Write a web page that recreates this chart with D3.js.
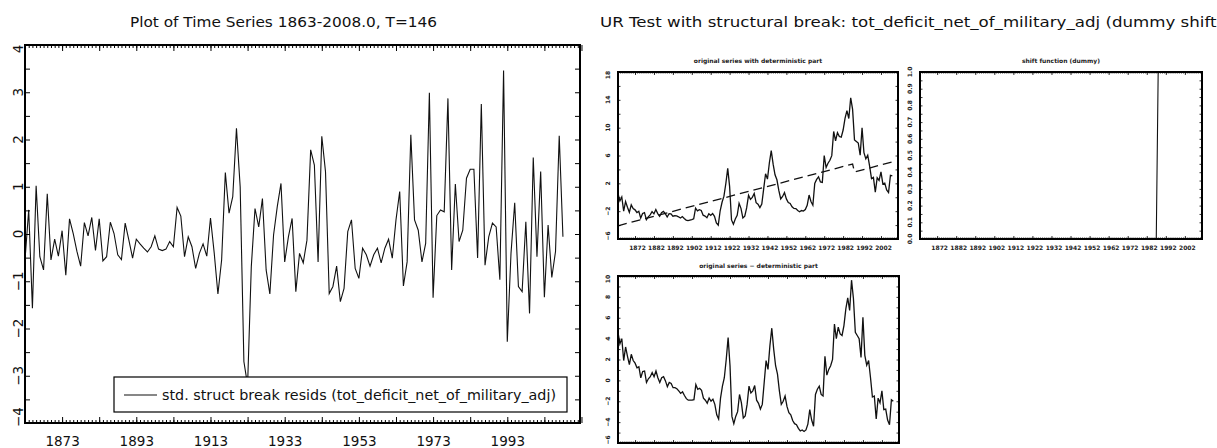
<!DOCTYPE html>
<html>
<head>
<meta charset="utf-8">
<script src="https://cdn.jsdelivr.net/npm/d3@7"></script>
<style>
  body { margin: 0; background: #fff; }
  svg { display: block; }
</style>
</head>
<body>
<svg id="chart" width="1217" height="448"></svg>
<script>
// ---- data -------------------------------------------------------------
const startYear = 1863;

// standardized structural-break residuals, 1863-2008
const residuals = [
  -0.55, 0.51, -1.57, 1.02, -0.48, -0.76, 0.85, -0.55, -0.11, -0.47,
   0.07, -0.87, 0.32, 0.01, -0.37, -0.68, 0.24, -0.04, 0.35, -0.35,
   0.32, -0.57, -0.48, 0.25, 0.01, -0.44, -0.54, 0.23, -0.13, -0.51,
  -0.11, -0.21, -0.30, -0.38, -0.27, -0.04, -0.32, -0.35, -0.32, -0.16,
  -0.27, 0.56, 0.38, -0.48, -0.06, -0.27, -0.73, -0.41, -0.21, -0.47,
   0.34, -0.40, -1.27, -0.55, 1.30, 0.44, 0.79, 2.24, 1.00, -2.70,
  -3.20, -0.69, 0.54, 0.15, 0.75, -0.76, -1.27, -0.02, 0.58, 1.07,
  -0.59, -0.06, 0.33, -1.22, -0.41, -0.61, -0.13, 1.78, 1.46, -0.59,
   2.07, 1.32, -1.26, -1.11, -0.68, -1.43, -1.15, 0.05, 0.30, -0.73,
  -0.94, -0.30, -0.44, -0.68, -0.44, -0.30, -0.61, -0.30, -0.11, -0.51,
   0.30, 0.90, -1.10, -0.59, 2.10, 0.30, 0.08, -0.59, -0.20, 2.99,
  -1.35, 0.39, 0.51, 0.47, 2.87, -0.76, 1.06, -0.16, 0.08, 1.18,
   1.37, 1.37, -0.51, 2.75, -0.66, -0.06, 0.23, 0.15, -0.97, 3.46,
  -2.28, -0.41, 0.66, -1.11, -1.22, 0.26, -1.68, 1.62, -0.48, 1.32,
  -1.34, 0.19, -0.92, -0.37, 2.08, -0.06
];

// original series (tot_deficit_net_of_military_adj), 1863-2008
const original = [
   0.50, -0.53, 0.04, -1.99, -0.61, -1.44, -2.17, -1.10, -1.63, -1.81,
  -2.19, -2.01, -2.99, -2.32, -2.20, -3.23, -2.81, -2.53, -2.06, -2.39,
  -1.77, -2.35, -2.73, -2.21, -2.03, -2.36, -2.84, -2.37, -2.40, -2.73,
  -2.66, -2.68, -2.81, -2.99, -2.77, -3.05, -3.28, -3.35, -3.28, -3.21,
  -3.09, -1.57, -1.95, -1.78, -1.90, -2.58, -2.71, -2.94, -2.37, -2.60,
  -2.33, -2.75, -3.68, -4.01, -1.94, -0.72, 0.15, 1.98, 4.15, 1.52,
  -3.26, -3.89, -3.12, -2.60, -0.87, -1.60, -2.98, -2.71, -1.54, 0.28,
  -0.29, -0.02, 0.55, -0.78, -1.01, -1.49, -0.97, 1.21, 3.38, 2.60,
   4.92, 6.69, 4.76, 3.23, 2.51, 0.98, -0.25, 0.12, 0.69, -0.24,
  -0.76, -0.89, -1.37, -1.60, -1.63, -1.91, -2.09, -1.91, -1.99, -1.77,
  -1.15, 0.32, -0.61, -1.14, 1.99, 2.56, 2.93, 2.20, 2.12, 5.99,
   4.27, 4.89, 5.31, 5.98, 9.45, 8.12, 9.29, 8.72, 8.64, 9.66,
  11.33, 12.45, 11.32, 14.29, 12.62, 8.24, 8.01, 7.78, 6.05, 9.98,
   6.40, 5.52, 6.04, 4.46, 2.68, 2.85, 0.73, 2.80, 2.42, 3.64,
   1.91, 2.03, 1.06, 0.68, 3.15, 3.07
];

// original series minus deterministic part, 1863-2008
const detrended = [
   4.60, 3.50, 4.00, 1.90, 3.20, 2.30, 1.50, 2.50, 1.90, 1.65,
   1.20, 1.30, 0.25, 0.85, 0.90, -0.20, 0.15, 0.35, 0.75, 0.35,
   0.90, 0.25, -0.20, 0.25, 0.35, -0.05, -0.60, -0.20, -0.30, -0.70,
  -0.70, -0.80, -1.00, -1.25, -1.10, -1.45, -1.75, -1.90, -1.90, -1.90,
  -1.85, -0.40, -0.85, -0.75, -0.95, -1.70, -1.90, -2.20, -1.70, -2.00,
  -1.80, -2.30, -3.30, -3.70, -1.70, -0.55, 0.25, 2.00, 4.10, 1.40,
  -3.45, -4.15, -3.45, -3.00, -1.35, -2.15, -3.60, -3.40, -2.30, -0.55,
  -1.20, -1.00, -0.50, -1.90, -2.20, -2.75, -2.30, -0.20, 1.90, 1.05,
   3.30, 5.00, 3.00, 1.40, 0.60, -1.00, -2.30, -2.00, -1.50, -2.50,
  -3.10, -3.30, -3.85, -4.15, -4.25, -4.60, -4.85, -4.75, -4.90, -4.75,
  -4.20, -2.80, -3.80, -4.40, -1.35, -0.85, -0.55, -1.35, -1.50, 2.30,
   0.50, 1.05, 1.40, 2.00, 5.40, 4.00, 5.10, 4.45, 4.30, 5.25,
   6.85, 7.90, 6.70, 9.60, 7.85, 4.60, 4.30, 4.00, 2.20, 6.05,
   2.40, 1.45, 1.90, 0.25, -1.60, -1.50, -3.70, -1.70, -2.15, -1.00,
  -2.80, -2.75, -3.80, -4.25, -1.85, -2.00
];

// deterministic part: trend with a level shift in 1988
const trendYears  = [1863, 1987, 1988, 2008];
const trendValues = [-4.10, 4.77, 3.64, 5.07];

// shift dummy
const shiftYears  = [1863, 1987, 1988, 2008];
const shiftValues = [0, 0, 1, 1];

// tick labels
const mainXLabels = [1873, 1893, 1913, 1933, 1953, 1973, 1993];
const mainYLabels = [-4, -3, -2, -1, 0, 1, 2, 3, 4];
const subXLabels  = [1872, 1882, 1892, 1902, 1912, 1922, 1932, 1942, 1952, 1962, 1972, 1982, 1992, 2002];
const origYLabels = [-6, -2, 2, 6, 10, 14, 18];
const shiftYLabels = [0.0, 0.1, 0.2, 0.3, 0.4, 0.5, 0.6, 0.7, 0.8, 0.9, 1.0];
const detrYLabels = [-6, -4, -2, 0, 2, 4, 6, 8, 10];

// ---- drawing ------------------------------------------------------------
const svg = d3.select("#chart");
svg.append("rect").attr("width", 1217).attr("height", 448).attr("fill", "#fff");

const FONT = "'DejaVu Sans', 'Noto Sans', sans-serif";
const yearOf = i => startYear + i;
const range = (a, b, s) => d3.range(a, b + s / 2, s);

function stripDomain(g) { g.select(".domain").remove(); }

// frame with inward ticks on all four sides
function drawFrame(g, x, y, o) {
  const [x0, x1] = x.range();
  const [y1, y0] = y.range();
  const tickStyle = sel => sel.selectAll("line").attr("stroke", "#000").attr("stroke-width", o.tickWidth);

  [["bottom", y1], ["top", y0]].forEach(([side, ty]) => {
    const mk = side === "bottom" ? d3.axisBottom : d3.axisTop;
    g.append("g").attr("transform", `translate(0,${ty})`)
      .call(mk(x).tickValues(o.xMinor).tickSize(-o.minorLen).tickFormat(""))
      .call(stripDomain).call(tickStyle);
    g.append("g").attr("transform", `translate(0,${ty})`)
      .call(mk(x).tickValues(o.xMajor).tickSize(-o.majorLen).tickFormat(""))
      .call(stripDomain).call(tickStyle);
  });
  [["left", x0], ["right", x1]].forEach(([side, tx]) => {
    const mk = side === "left" ? d3.axisLeft : d3.axisRight;
    g.append("g").attr("transform", `translate(${tx},0)`)
      .call(mk(y).tickValues(o.yTicks).tickSize(-o.yLen).tickFormat(""))
      .call(stripDomain).call(tickStyle);
  });

  g.append("rect")
    .attr("x", x0).attr("y", y0)
    .attr("width", x1 - x0).attr("height", y1 - y0)
    .attr("fill", "none").attr("stroke", "#000").attr("stroke-width", o.frameWidth);
}

function xLabels(g, x, y, values, o) {
  const ax = g.append("g").attr("transform", `translate(0,${o.y})`)
    .call(d3.axisBottom(x).tickValues(values).tickSize(0).tickPadding(0).tickFormat(d3.format("d")))
    .call(stripDomain);
  ax.selectAll("text")
    .attr("font-family", FONT).attr("font-size", o.size).attr("font-weight", o.weight || "normal")
    .attr("fill", o.fill || "#000").attr("dy", "0.35em").attr("y", 0)
    .attr("dx", o.dx || 0);
}

function yLabels(g, y, values, o) {
  g.append("g").selectAll("text").data(values).join("text")
    .attr("transform", d => `translate(${o.x},${o.shift ? o.shift(d, y(d)) : y(d)}) rotate(-90)`)
    .attr("text-anchor", "middle")
    .attr("dy", "0.35em")
    .attr("font-family", FONT).attr("font-size", o.size).attr("font-weight", o.weight || "normal")
    .attr("fill", o.fill || "#000")
    .text(o.format);
}

function fitText(sel, width) {
  sel.attr("textLength", width).attr("lengthAdjust", "spacingAndGlyphs");
}

// ---------- left panel: standardized residuals ----------
{
  const g = svg.append("g");
  const x = d3.scaleLinear().domain([1863, 2012.6]).range([25, 580]);
  const y = d3.scaleLinear().domain([-4, 4]).range([423, 45]);

  g.append("path")
    .datum(residuals)
    .attr("d", d3.line().x((d, i) => x(yearOf(i))).y(d => y(d)))
    .attr("fill", "none").attr("stroke", "#111").attr("stroke-width", 1.1)
    .attr("stroke-linejoin", "miter");

  drawFrame(g, x, y, {
    xMinor: range(1863, 2012, 1), xMajor: range(1863, 2012, 10),
    minorLen: 3, majorLen: 6, yTicks: range(-4, 4, 0.5), yLen: 5,
    tickWidth: 1, frameWidth: 2
  });

  xLabels(g, x, y, mainXLabels, { y: 441, size: 13.5, fill: "#111" });
  yLabels(g, y, mainYLabels, {
    x: 18, size: 13.5, fill: "#111", format: d => d3.format("d")(d).replace("-", "\u2212"),
    shift: (d, py) => d === -4 ? py - 6 : d === 4 ? py + 4 : py
  });

  // legend
  const lg = g.append("g");
  lg.append("rect").attr("x", 114).attr("y", 377).attr("width", 453).attr("height", 35)
    .attr("fill", "#fff").attr("stroke", "#000").attr("stroke-width", 1.2);
  lg.append("line").attr("x1", 124).attr("x2", 157).attr("y1", 395).attr("y2", 395)
    .attr("stroke", "#111").attr("stroke-width", 1.1);
  lg.append("text").attr("x", 162).attr("y", 400)
    .attr("font-family", FONT).attr("font-size", 13.5).attr("fill", "#111")
    .text("std. struct break resids (tot_deficit_net_of_military_adj)")
    .call(fitText, 394);

  svg.append("text").attr("x", 130).attr("y", 27)
    .attr("font-family", FONT).attr("font-size", 13.5).attr("fill", "#111")
    .text("Plot of Time Series 1863-2008.0, T=146")
    .call(fitText, 307);
}

// ---------- right side: unit root test panels ----------
svg.append("text").attr("x", 600).attr("y", 27)
  .attr("font-family", FONT).attr("font-size", 13.5).attr("fill", "#111")
  .text("UR Test with structural break: tot_deficit_net_of_military_adj (dummy shift)")
  .call(fitText, 623);

const SUB = { size: 6, weight: "bold", fill: "#222" };

function subPanel(box, yDomain, yTickStep, yLabelVals, yFmt, title, titleY, series, opts) {
  const g = svg.append("g");
  const x = d3.scaleLinear().domain([1863, 2011]).range([box.x0, box.x1]);
  const y = d3.scaleLinear().domain(yDomain).range([box.y1, box.y0]);

  series.forEach(s => {
    const line = d3.line().x(d => x(d[0])).y(d => y(d[1]));
    g.append("path").datum(s.points).attr("d", line)
      .attr("fill", "none").attr("stroke", "#111").attr("stroke-width", s.width || 1.3)
      .attr("stroke-dasharray", s.dash || null);
  });

  drawFrame(g, x, y, {
    xMinor: range(1863, 2011, 1), xMajor: range(1872, 2002, 10),
    minorLen: 1.5, majorLen: 3, yTicks: range(yDomain[0], yDomain[1], yTickStep), yLen: 2.5,
    tickWidth: 0.8, frameWidth: 2
  });

  if (opts.xLabels) xLabels(g, x, y, subXLabels, { y: box.y1 + 9, size: SUB.size, weight: SUB.weight, fill: SUB.fill, dx: 2 });
  yLabels(g, y, yLabelVals, {
    x: box.x0 - 10, size: SUB.size, weight: SUB.weight, fill: SUB.fill, format: yFmt,
    shift: opts.edgeShift ? (d, py) => d === yDomain[0] ? py - 3 : d === yDomain[1] ? py + 3 : py : null
  });

  g.append("text").attr("x", (box.x0 + box.x1) / 2).attr("y", titleY)
    .attr("text-anchor", "middle")
    .attr("font-family", FONT).attr("font-size", 6).attr("font-weight", "bold").attr("fill", "#222")
    .text(title);
}

const pts = arr => arr.map((v, i) => [yearOf(i), v]);
const zip = (xs, vs) => xs.map((d, i) => [d, vs[i]]);
const intFmt = d => d3.format("d")(d).replace("-", "\u2212");

subPanel({ x0: 618, x1: 898, y0: 72, y1: 239 }, [-6, 18], 2, origYLabels, intFmt,
  "original series with deterministic part", 63,
  [{ points: pts(original) }, { points: zip(trendYears, trendValues), dash: "9,5", width: 1.3 }],
  { xLabels: true, edgeShift: true });

subPanel({ x0: 920, x1: 1202, y0: 72, y1: 239 }, [0, 1], 0.05, shiftYLabels, d3.format(".1f"),
  "shift function (dummy)", 63,
  [{ points: zip(shiftYears, shiftValues), width: 1.1 }],
  { xLabels: true, edgeShift: false });

subPanel({ x0: 618, x1: 899, y0: 276, y1: 443 }, [-6, 10], 1, detrYLabels, intFmt,
  "original series \u2212 deterministic part", 268,
  [{ points: pts(detrended) }],
  { xLabels: false, edgeShift: true });
</script>
</body>
</html>
